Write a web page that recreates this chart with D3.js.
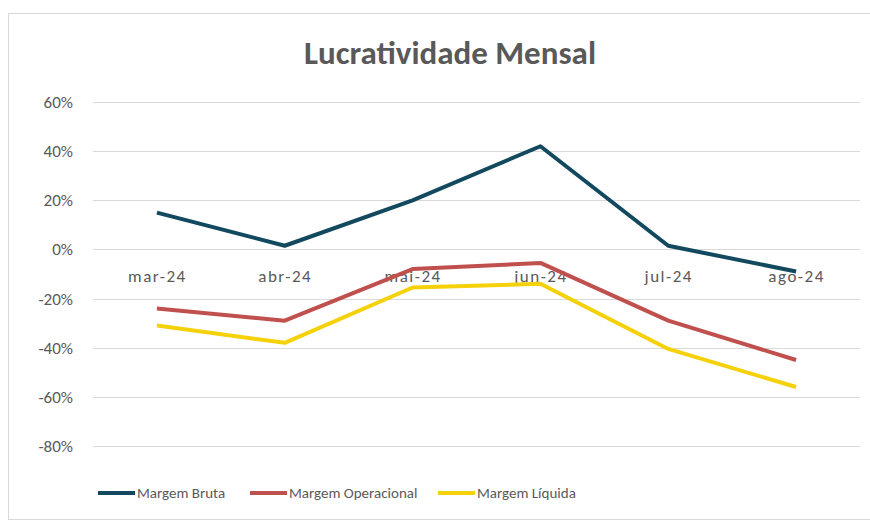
<!DOCTYPE html>
<html>
<head>
<meta charset="utf-8">
<script src="https://cdn.jsdelivr.net/npm/d3@7"></script>
<style>
  body { margin: 0; background: #fff; }
  svg text { font-family: Calibri, Lato, "Open Sans", sans-serif; fill: #595959; }
</style>
</head>
<body>
<script>
const months = ["mar-24", "abr-24", "mai-24", "jun-24", "jul-24", "ago-24"]
const bruta = [15, 1.5, 20, 42, 1.5, -9]
const operacional = [-24, -29, -8, -5.5, -29, -45]
const liquida = [-31, -38, -15.5, -14, -40.5, -56]
const yTicks = [60, 40, 20, 0, -20, -40, -60, -80]
const seriesNames = ["Margem Bruta", "Margem Operacional", "Margem Líquida"]
const seriesColors = ["#12495e", "#c0504d", "#f5d10a"]

const W = 870, H = 525
const svg = d3.select("body").append("svg")
              .attr("width", W)
              .attr("height", H)

// chart frame
svg.append("rect")
   .attr("x", 8.5).attr("y", 13.5)
   .attr("width", 880).attr("height", 506)
   .attr("fill", "#fff")
   .attr("stroke", "#d9d9d9")

svg.append("text")
   .attr("x", 450).attr("y", 64)
   .attr("text-anchor", "middle")
   .style("font-size", "33px")
   .style("font-weight", "bold")
   .text("Lucratividade Mensal")

const x = d3.scalePoint()
            .domain(months)
            .range([93, 860])
            .padding(0.5)

const y = d3.scaleLinear()
            .domain([-80, 60])
            .range([446, 102])

// gridlines
svg.append("g")
   .selectAll("line")
   .data(yTicks)
   .enter()
   .append("line")
   .attr("x1", 93).attr("x2", 860)
   .attr("y1", d => Math.round(y(d)) + 0.5)
   .attr("y2", d => Math.round(y(d)) + 0.5)
   .attr("stroke", "#d9d9d9")
   .attr("stroke-width", 1)

// y labels
svg.append("g")
   .selectAll("text")
   .data(yTicks)
   .enter()
   .append("text")
   .attr("x", 73)
   .attr("y", d => y(d) + 6)
   .attr("text-anchor", "end")
   .style("font-size", "17px")
   .text(d => d + "%")

// category axis on zero line
const xAxis = d3.axisBottom(x).tickSize(0).tickPadding(20)
const gx = svg.append("g")
              .attr("transform", `translate(0, ${Math.round(y(0)) + 0.5})`)
              .call(xAxis)
gx.select(".domain").remove()
gx.selectAll("text")
  .style("font-size", "17px")
  .style("letter-spacing", "1.5px")
  .attr("fill", "#595959")

const series = [bruta, operacional, liquida]
const line = d3.line()
               .x((d, i) => x(months[i]))
               .y(d => y(d))

svg.append("g")
   .selectAll("path")
   .data(series)
   .enter()
   .append("path")
   .attr("d", d => line(d))
   .attr("fill", "none")
   .attr("stroke", (d, i) => seriesColors[i])
   .attr("stroke-width", 4)
   .attr("stroke-linejoin", "round")

// legend
const legendX = [98, 250, 438]
const legend = svg.append("g")
                  .selectAll("g")
                  .data(seriesNames)
                  .enter()
                  .append("g")
                  .attr("transform", (d, i) => `translate(${legendX[i]}, 493)`)
legend.append("line")
      .attr("x1", 0).attr("x2", 37)
      .attr("stroke", (d, i) => seriesColors[i])
      .attr("stroke-width", 4)
legend.append("text")
      .attr("x", 39).attr("y", 5)
      .style("font-size", "15px")
      .text(d => d)
</script>
</body>
</html>
